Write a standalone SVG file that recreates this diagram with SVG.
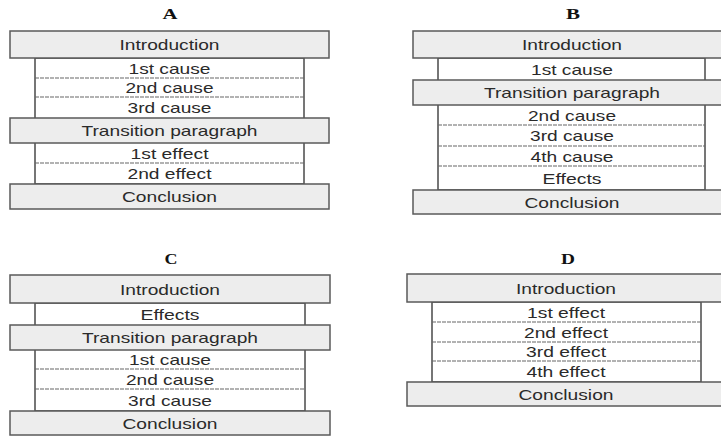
<svg xmlns="http://www.w3.org/2000/svg" width="721" height="436" viewBox="0 0 721 436">
<style>
.bg{fill:#ffffff}
.wide{fill:#ededed;stroke:#5a5a5a;stroke-width:1.5}
.inner{fill:#ffffff;stroke:#4a4a4a;stroke-width:1.5}
.sep{stroke:#666;stroke-width:1.2;stroke-dasharray:4 1}
.t{font-family:"Liberation Sans",Arial,sans-serif;font-size:15px;fill:#2a2a2a;text-anchor:middle}
.h{font-family:"Liberation Serif","Times New Roman",serif;font-size:14px;font-weight:bold;fill:#111;text-anchor:middle}
</style>
<rect class="bg" x="0" y="0" width="721" height="436"/>

<!-- Diagram A -->
<g id="diagramA">
  <text class="h" x="170" y="18.5" textLength="15" lengthAdjust="spacingAndGlyphs">A</text>
  <rect class="inner" x="35" y="58" width="269" height="126"/>
  <line class="sep" x1="35" y1="78" x2="304" y2="78"/>
  <line class="sep" x1="35" y1="97" x2="304" y2="97"/>
  <line class="sep" x1="35" y1="163" x2="304" y2="163"/>
  <g id="A-intro"><rect class="wide" x="10" y="31" width="319" height="27"/><text class="t" x="169.5" y="50" textLength="100" lengthAdjust="spacingAndGlyphs">Introduction</text></g>
  <g id="A-cause1"><text class="t" x="169.5" y="73.5" textLength="82" lengthAdjust="spacingAndGlyphs">1st cause</text></g>
  <g id="A-cause2"><text class="t" x="169.5" y="93" textLength="88" lengthAdjust="spacingAndGlyphs">2nd cause</text></g>
  <g id="A-cause3"><text class="t" x="169.5" y="113" textLength="84" lengthAdjust="spacingAndGlyphs">3rd cause</text></g>
  <g id="A-transition"><rect class="wide" x="10" y="118" width="319" height="25"/><text class="t" x="169.5" y="136" textLength="176" lengthAdjust="spacingAndGlyphs">Transition paragraph</text></g>
  <g id="A-effect1"><text class="t" x="169.5" y="158.5" textLength="78" lengthAdjust="spacingAndGlyphs">1st effect</text></g>
  <g id="A-effect2"><text class="t" x="169.5" y="179" textLength="84" lengthAdjust="spacingAndGlyphs">2nd effect</text></g>
  <g id="A-conclusion"><rect class="wide" x="10" y="184" width="319" height="25"/><text class="t" x="169.5" y="202" textLength="95" lengthAdjust="spacingAndGlyphs">Conclusion</text></g>
</g>

<!-- Diagram B -->
<g id="diagramB">
  <text class="h" x="573" y="18.5" textLength="14" lengthAdjust="spacingAndGlyphs">B</text>
  <rect class="inner" x="438" y="58" width="267" height="132"/>
  <line class="sep" x1="438" y1="125" x2="705" y2="125"/>
  <line class="sep" x1="438" y1="146" x2="705" y2="146"/>
  <line class="sep" x1="438" y1="166" x2="705" y2="166"/>
  <g id="B-intro"><rect class="wide" x="413" y="31" width="320" height="27"/><text class="t" x="572" y="50" textLength="100" lengthAdjust="spacingAndGlyphs">Introduction</text></g>
  <g id="B-cause1"><text class="t" x="572" y="74.5" textLength="82" lengthAdjust="spacingAndGlyphs">1st cause</text></g>
  <g id="B-transition"><rect class="wide" x="413" y="80" width="320" height="25"/><text class="t" x="572" y="98" textLength="176" lengthAdjust="spacingAndGlyphs">Transition paragraph</text></g>
  <g id="B-cause2"><text class="t" x="572" y="120.5" textLength="88" lengthAdjust="spacingAndGlyphs">2nd cause</text></g>
  <g id="B-cause3"><text class="t" x="572" y="141" textLength="84" lengthAdjust="spacingAndGlyphs">3rd cause</text></g>
  <g id="B-cause4"><text class="t" x="572" y="161.5" textLength="83" lengthAdjust="spacingAndGlyphs">4th cause</text></g>
  <g id="B-effects"><text class="t" x="572" y="183.5" textLength="59" lengthAdjust="spacingAndGlyphs">Effects</text></g>
  <g id="B-conclusion"><rect class="wide" x="413" y="190" width="320" height="24"/><text class="t" x="572" y="207.5" textLength="95" lengthAdjust="spacingAndGlyphs">Conclusion</text></g>
</g>

<!-- Diagram C -->
<g id="diagramC">
  <text class="h" x="171" y="263.5" textLength="13" lengthAdjust="spacingAndGlyphs">C</text>
  <rect class="inner" x="35" y="303" width="270" height="108"/>
  <line class="sep" x1="35" y1="369" x2="305" y2="369"/>
  <line class="sep" x1="35" y1="389" x2="305" y2="389"/>
  <g id="C-intro"><rect class="wide" x="10" y="275" width="320" height="28"/><text class="t" x="170" y="294.5" textLength="100" lengthAdjust="spacingAndGlyphs">Introduction</text></g>
  <g id="C-effects"><text class="t" x="170" y="319.5" textLength="59" lengthAdjust="spacingAndGlyphs">Effects</text></g>
  <g id="C-transition"><rect class="wide" x="10" y="325" width="320" height="25"/><text class="t" x="170" y="343" textLength="176" lengthAdjust="spacingAndGlyphs">Transition paragraph</text></g>
  <g id="C-cause1"><text class="t" x="170" y="365" textLength="82" lengthAdjust="spacingAndGlyphs">1st cause</text></g>
  <g id="C-cause2"><text class="t" x="170" y="384.5" textLength="88" lengthAdjust="spacingAndGlyphs">2nd cause</text></g>
  <g id="C-cause3"><text class="t" x="170" y="405.5" textLength="84" lengthAdjust="spacingAndGlyphs">3rd cause</text></g>
  <g id="C-conclusion"><rect class="wide" x="10" y="411" width="320" height="24"/><text class="t" x="170" y="428.5" textLength="95" lengthAdjust="spacingAndGlyphs">Conclusion</text></g>
</g>

<!-- Diagram D -->
<g id="diagramD">
  <text class="h" x="568" y="263.5" textLength="14" lengthAdjust="spacingAndGlyphs">D</text>
  <rect class="inner" x="432" y="302" width="269" height="80"/>
  <line class="sep" x1="432" y1="322" x2="701" y2="322"/>
  <line class="sep" x1="432" y1="342" x2="701" y2="342"/>
  <line class="sep" x1="432" y1="361" x2="701" y2="361"/>
  <g id="D-intro"><rect class="wide" x="407" y="274" width="326" height="28"/><text class="t" x="566" y="293.5" textLength="100" lengthAdjust="spacingAndGlyphs">Introduction</text></g>
  <g id="D-effect1"><text class="t" x="566" y="317.5" textLength="78" lengthAdjust="spacingAndGlyphs">1st effect</text></g>
  <g id="D-effect2"><text class="t" x="566" y="337.5" textLength="84" lengthAdjust="spacingAndGlyphs">2nd effect</text></g>
  <g id="D-effect3"><text class="t" x="566" y="357" textLength="80" lengthAdjust="spacingAndGlyphs">3rd effect</text></g>
  <g id="D-effect4"><text class="t" x="566" y="377" textLength="79" lengthAdjust="spacingAndGlyphs">4th effect</text></g>
  <g id="D-conclusion"><rect class="wide" x="407" y="382" width="326" height="24"/><text class="t" x="566" y="399.5" textLength="95" lengthAdjust="spacingAndGlyphs">Conclusion</text></g>
</g>
</svg>
